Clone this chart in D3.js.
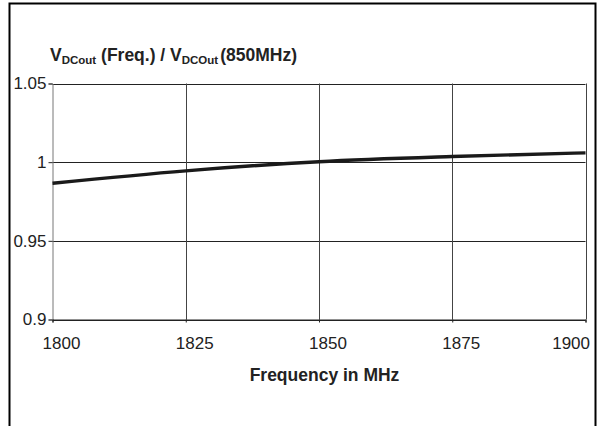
<!DOCTYPE html>
<html><head><meta charset="utf-8">
<script src="https://cdn.jsdelivr.net/npm/d3@7/dist/d3.min.js"></script>
<style>body{margin:0;background:#fff}svg{display:block}</style>
</head><body><svg id="c" width="599" height="426"></svg>
<script>
const freqs = [1800, 1825, 1850, 1875, 1900];
const ratio = [0.9866, 0.9945, 1.0003, 1.0036, 1.0059];
const xTicks = [1800, 1825, 1850, 1875, 1900];
const yTicks = [0.9, 0.95, 1, 1.05];
const yTickLabels = ["0.9", "0.95", "1", "1.05"];

const svg = d3.select("#c");
const font = "'Liberation Sans', Arial, sans-serif";
// frame (no bottom edge)
svg.append("path").attr("d", "M9.5,426 V3.5 H595.5 V426")
  .attr("fill", "none").attr("stroke", "#000").attr("stroke-width", 2);

const x = d3.scaleLinear().domain([1800, 1900]).range([52.5, 585.5]);
const y = d3.scaleLinear().domain([0.9, 1.05]).range([319.5, 83.5]);

const g = svg.append("g");
// gridlines
g.selectAll(".hg").data(yTicks).join("line")
  .attr("x1", x(1800)).attr("x2", x(1900))
  .attr("y1", d => Math.round(y(d)) + 0.5).attr("y2", d => Math.round(y(d)) + 0.5)
  .attr("stroke", "#222").attr("stroke-width", 1);
g.selectAll(".vg").data(xTicks.slice(1)).join("line")
  .attr("x1", d => Math.round(x(d)) + 0.5).attr("x2", d => Math.round(x(d)) + 0.5)
  .attr("y1", y(1.05)).attr("y2", y(0.9))
  .attr("stroke", "#444").attr("stroke-width", 1);

// y axis
const ya = svg.append("g").attr("transform", `translate(${x(1800)},0)`)
  .call(d3.axisLeft(y).tickValues(yTicks).tickFormat((d, i) => yTickLabels[i]).tickSize(4).tickPadding(2));
ya.select(".domain").attr("stroke", "#777");
ya.selectAll(".tick line").attr("stroke", "#222");
ya.selectAll("text").attr("font-family", font).attr("font-size", 17).attr("fill", "#222");

// x axis
const xa = svg.append("g").attr("transform", `translate(0,${y(0.9)})`)
  .call(d3.axisBottom(x).tickValues(xTicks).tickFormat(d3.format("d")).tickSize(3).tickPadding(14));
xa.select(".domain").attr("stroke", "#222");
xa.selectAll(".tick line").attr("stroke", "#222");
xa.selectAll("text").attr("font-family", font).attr("font-size", 17).attr("fill", "#222")
  .attr("dx", 8.5);
xa.selectAll(".tick").filter(d => d === 1900).select("text")
  .attr("text-anchor", "end").attr("dx", 4);

// data line
const line = d3.line().x((d, i) => x(freqs[i])).y(d => y(d)).curve(d3.curveMonotoneX);
svg.append("path").datum(ratio).attr("d", line)
  .attr("fill", "none").attr("stroke", "#1a1a1a").attr("stroke-width", 3.4);

// title
const t = svg.append("text").attr("x", 50).attr("y", 61)
  .attr("font-family", font).attr("font-weight", "bold").attr("font-size", 17.5).attr("fill", "#222");
t.append("tspan").text("V");
t.append("tspan").attr("font-size", 11.5).attr("dy", 3).text("DCout");
t.append("tspan").attr("dy", -3).text(" (Freq.) / V");
t.append("tspan").attr("font-size", 11.5).attr("dy", 3).text("DCOut");
t.append("tspan").attr("dy", -3).attr("dx", 2).text("(850MHz)");

// x title
svg.append("text").attr("x", 324.5).attr("y", 381).attr("text-anchor", "middle")
  .attr("font-family", font).attr("font-weight", "bold").attr("font-size", 17.5).attr("fill", "#222")
  .text("Frequency in MHz");
</script></body></html>
